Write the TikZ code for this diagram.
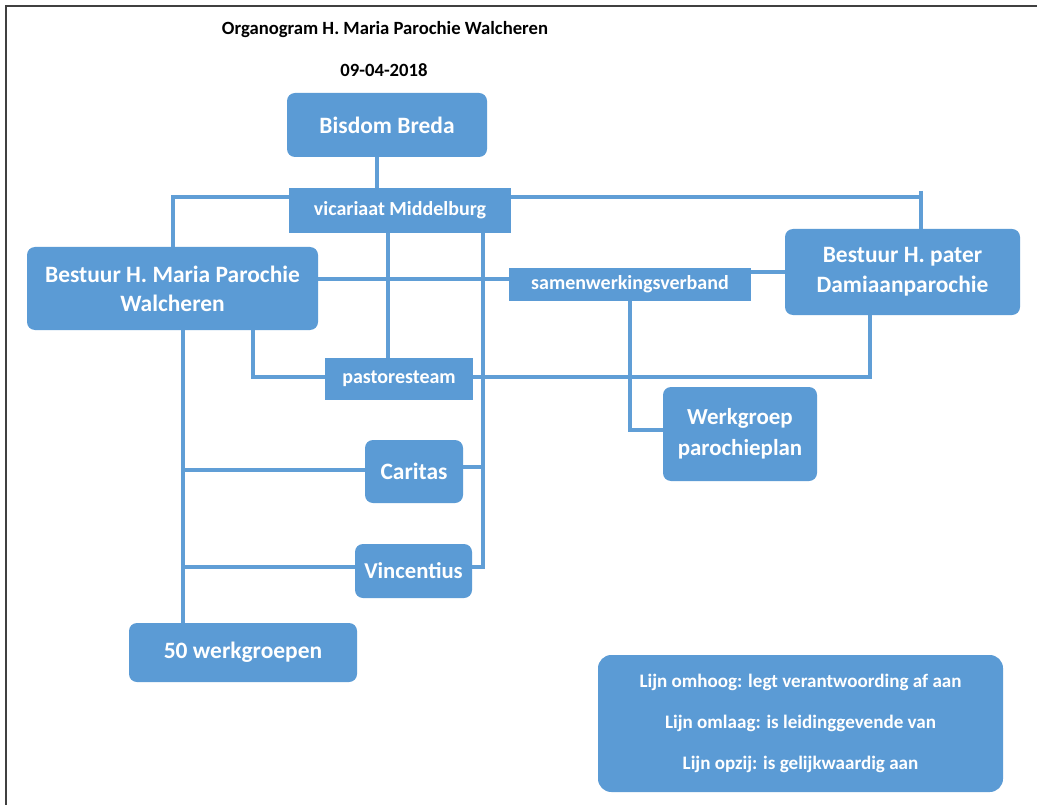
\documentclass[tikz,border=0pt]{standalone}
\usepackage{fontspec}
\setmainfont{Carlito}
\definecolor{boxblue}{RGB}{91,155,213}
\definecolor{lineblue}{RGB}{96,158,214}
\begin{document}
\begin{tikzpicture}[x=0.75pt,y=-0.75pt,
  box/.style={draw=none,fill=boxblue,text=white,font=\bfseries\fontsize{17.6}{22}\selectfont,align=center,inner sep=0pt,rounded corners=6pt},
  sqbox/.style={box,rounded corners=0pt,font=\bfseries\fontsize{15}{18}\selectfont},
  conn/.style={draw=lineblue,line width=3pt},
  ttl/.style={font=\bfseries\fontsize{14}{17}\selectfont,text=black,inner sep=0pt}]
\useasboundingbox (0,0) rectangle (1037,805);
\fill[white] (0,0) rectangle (1037,805);
\draw[black!75,line width=1.5pt] (6,805) -- (6,6) -- (1037,6);

\node[ttl] (title) at (385,30) {Organogram H. Maria Parochie Walcheren};
\node[ttl] (date) at (384,70) {09-04-2018};

\coordinate (vl) at (173,197);
\coordinate (vr) at (921,197);
\coordinate (vrt) at (921,191);
\coordinate (pl) at (253,377);
\coordinate (pr) at (870,377);
\coordinate (sw) at (630,430);
\coordinate (vd) at (483,567);
\coordinate (ca) at (183,470);
\coordinate (vi) at (183,567);

\node[box,minimum width=200pt*0.75,minimum height=64pt*0.75] (bisdom) at (387,125) {Bisdom Breda};
\node[sqbox,minimum width=222pt*0.75,minimum height=45pt*0.75] (vic) at (400,210.5) {vicariaat Middelburg};
\node[box,minimum width=291pt*0.75,minimum height=83pt*0.75,font=\bfseries\fontsize{17.6}{21.8}\selectfont] (maria) at (172.5,288.5) {Bestuur H. Maria Parochie\\Walcheren};
\node[box,minimum width=235pt*0.75,minimum height=86pt*0.75,font=\bfseries\fontsize{17.6}{22.5}\selectfont] (pater) at (902.5,272) {Bestuur H. pater\\Damiaanparochie};
\node[sqbox,minimum width=242pt*0.75,minimum height=33pt*0.75] (samen) at (630,284.5) {samenwerkingsverband};
\node[sqbox,minimum width=148pt*0.75,minimum height=42pt*0.75] (past) at (399,379) {pastoresteam};
\node[box,minimum width=154pt*0.75,minimum height=94pt*0.75,font=\bfseries\fontsize{17.2}{23}\selectfont] (werk) at (740,434) {Werkgroep\\parochieplan};
\node[box,minimum width=98pt*0.75,minimum height=63pt*0.75] (caritas) at (414,471.5) {Caritas};
\node[box,minimum width=117pt*0.75,minimum height=54pt*0.75,font=\bfseries\fontsize{17}{20}\selectfont] (vinc) at (413.5,571) {Vincentius};
\node[box,minimum width=228pt*0.75,minimum height=59pt*0.75] (fifty) at (243,652.5) {50 werkgroepen};
\node[box,minimum width=405pt*0.75,minimum height=137pt*0.75,rounded corners=10pt,font=\bfseries\fontsize{14.3}{30.5}\selectfont] (legend) at (800.5,723.5) {Lijn omhoog: legt verantwoording af aan\\Lijn omlaag: is leidinggevende van\\Lijn opzij: is gelijkwaardig aan};

\path[conn] (bisdom.south -| 377,0) -- (vic.north -| 377,0);
\path[conn] (vic.west |- vl) -- (vl) -- (maria.north -| vl);
\path[conn] (vic.east |- vr) -- (vr) -- (pater.north -| vr);
\path[conn] (vrt) -- (vr);
\path[conn] (vic.south -| 388,0) -- (past.north -| 388,0);
\path[conn] (vic.south -| vd) -- (vd) -- (vinc.east |- vd);
\path[conn] (caritas.east |- 0,467) -- (483,467);
\path[conn] (maria.east |- 0,279) -- (samen.west |- 0,279);
\path[conn] (samen.east |- 0,272) -- (pater.west |- 0,272);
\path[conn] (maria.south -| pl) -- (pl) -- (past.west |- pl);
\path[conn] (past.east |- pr) -- (pr) -- (pater.south -| pr);
\path[conn] (samen.south -| sw) -- (sw) -- (werk.west |- sw);
\path[conn] (maria.south -| ca) -- (fifty.north -| ca);
\path[conn] (ca) -- (caritas.west |- ca);
\path[conn] (vi) -- (vinc.west |- vi);
\end{tikzpicture}
\end{document}
